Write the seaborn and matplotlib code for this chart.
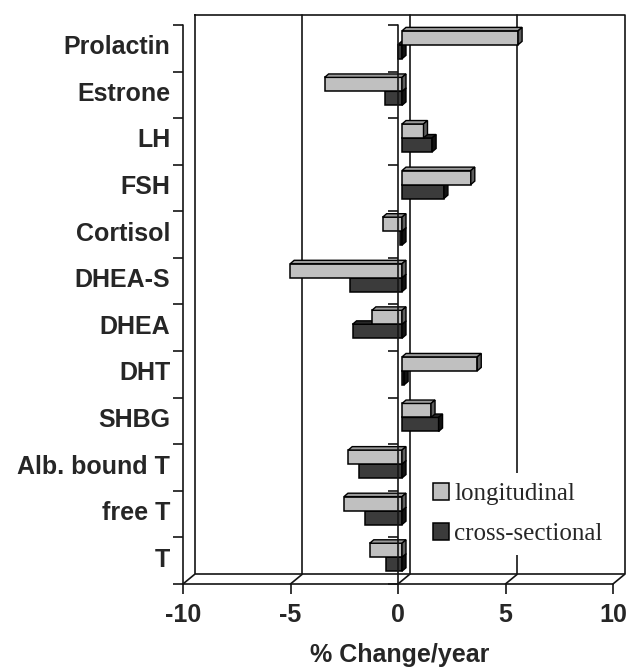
import numpy as np
import pandas as pd
import matplotlib
matplotlib.use("Agg")
import matplotlib.pyplot as plt
from matplotlib import markers, transforms
from matplotlib.patches import Polygon, Patch
import seaborn as sns

# ---- data -------------------------------------------------------------
hormones = ["Prolactin", "Estrone", "LH", "FSH", "Cortisol", "DHEA-S",
            "DHEA", "DHT", "SHBG", "Alb. bound T", "free T", "T"]
longitudinal = [5.4, -3.6, 1.0, 3.2, -0.9, -5.2, -1.4, 3.5, 1.35, -2.5, -2.7, -1.5]
cross_sectional = [-0.2, -0.8, 1.4, 1.95, -0.1, -2.4, -2.3, 0.1, 1.7, -2.0, -1.7, -0.75]
series = ["longitudinal", "cross-sectional"]
x_ticks = [-10, -5, 0, 5, 10]
x_label = "% Change/year"

df = pd.DataFrame({
    "hormone": hormones * 2,
    "change": longitudinal + cross_sectional,
    "design": [series[0]] * len(hormones) + [series[1]] * len(hormones),
})

# ---- style ------------------------------------------------------------
sns.set_style("white")
plt.rcParams["font.family"] = ["Liberation Sans", "DejaVu Sans"]
LINE = "#141414"
front_colors = ["#c0c0c0", "#3b3b3b"]
top_colors = ["#9a9a9a", "#282828"]
side_colors = ["#5e5e5e", "#121212"]

W, H, DPI = 631, 670, 100
fig = plt.figure(figsize=(W / DPI, H / DPI), dpi=DPI)
# the axes is the plane in which the bars' front faces lie (pixel box)
L, R, T, B = 187, 617, 21.5, 580.5
ax = fig.add_axes([L / W, 1 - B / H, (R - L) / W, (B - T) / H])

sns.barplot(data=df, y="hormone", x="change", hue="design",
            order=hormones, hue_order=series, palette=front_colors,
            orient="h", width=0.6, errorbar=None, edgecolor="black",
            linewidth=1.1, legend=False, ax=ax)

n = len(hormones)
ax.set_xlim(x_ticks[0], x_ticks[-1])
ax.set_ylim(n - 0.5, -0.5)
for s in ax.spines.values():
    s.set_visible(False)
ax.set_ylabel("")

# depth offsets in pixels, relative to the bar plane
BAR_DEPTH = np.array([4.0, 3.45])
FRONT = np.array([-4.0, -3.45])
BACK = np.array([7.5, 6.05])


def shifted(x, y, off):
    p = ax.transData.transform((x, y))
    return ax.transData.inverted().transform(p + off)


def plane_line(xs, ys, off, **kw):
    pts = np.array([shifted(x, y, off) for x, y in zip(xs, ys)])
    ax.plot(pts[:, 0], pts[:, 1], clip_on=False, **kw)
    return pts


# ---- 3-D faces on each bar -------------------------------------------
for k, cont in enumerate(ax.containers):
    z = 3 - k
    for bar in cont.patches:
        bar.set_zorder(z)
        x0, w = bar.get_x(), bar.get_width()
        y0, h = bar.get_y(), bar.get_height()
        left, right = min(x0, x0 + w), max(x0, x0 + w)
        top, bottom = min(y0, y0 + h), max(y0, y0 + h)
        top_face = [(left, top), (right, top),
                    tuple(shifted(right, top, BAR_DEPTH)),
                    tuple(shifted(left, top, BAR_DEPTH))]
        side_face = [(right, top), (right, bottom),
                     tuple(shifted(right, bottom, BAR_DEPTH)),
                     tuple(shifted(right, top, BAR_DEPTH))]
        ax.add_patch(Polygon(top_face, closed=True, facecolor=top_colors[k],
                             edgecolor="black", linewidth=1.0, zorder=z,
                             clip_on=False))
        ax.add_patch(Polygon(side_face, closed=True, facecolor=side_colors[k],
                             edgecolor="black", linewidth=1.0, zorder=z,
                             clip_on=False))

# ---- box: back wall, floor, front edges ------------------------------
ymin, ymax = -0.5, n - 0.5
xmin, xmax = x_ticks[0], x_ticks[-1]
lw = 1.2
# back wall outline and its vertical gridlines
plane_line([xmin, xmax, xmax, xmin, xmin], [ymin, ymin, ymax, ymax, ymin],
           BACK, color=LINE, lw=lw, zorder=0.5)
for v in x_ticks[1:-1]:
    plane_line([v, v], [ymin, ymax], BACK, color=LINE, lw=lw, zorder=0.5)
# floor: front edge and lines running back
plane_line([xmin, xmax], [ymax, ymax], FRONT, color=LINE, lw=lw, zorder=1)
for v in x_ticks:
    a = shifted(v, ymax, FRONT)
    b = shifted(v, ymax, BACK)
    ax.plot([a[0], b[0]], [a[1], b[1]], color=LINE, lw=lw, zorder=1,
            clip_on=False)
# floor tick marks
fp = np.array([shifted(v, ymax, FRONT) for v in x_ticks])
ax.plot(fp[:, 0], fp[:, 1], ls="none", marker=markers.TICKDOWN,
        markersize=7.2, markeredgewidth=lw, color=LINE, clip_on=False)
# left edge and zero line, each with category ticks
bounds = np.arange(n + 1) - 0.5
for v in (xmin, 0):
    plane_line([v, v], [ymin, ymax], FRONT, color=LINE, lw=lw, zorder=4)
    bp = np.array([shifted(v, y, FRONT) for y in bounds])
    ax.plot(bp[:, 0], bp[:, 1], ls="none", marker=markers.TICKLEFT,
            markersize=7.2, markeredgewidth=lw, color=LINE, clip_on=False,
            zorder=4)

# ---- ticks and labels -------------------------------------------------
ax.set_xticks(x_ticks)
ax.set_xticklabels([str(v) for v in x_ticks])
ax.tick_params(axis="x", length=0, pad=16, labelsize=18)
ax.tick_params(axis="y", length=0, pad=12, labelsize=18)
for lab in ax.get_xticklabels() + ax.get_yticklabels():
    lab.set_fontweight("bold")
shift = transforms.ScaledTranslation(FRONT[0] / DPI, 0, fig.dpi_scale_trans)
for lab in ax.xaxis.get_majorticklabels():
    lab.set_transform(lab.get_transform() + shift)

ax.set_xlabel(x_label, fontsize=18, fontweight="bold")
ax.xaxis.set_label_coords(0.494, (B - 662) / (B - T))
ax.xaxis.label.set_va("baseline")

# ---- legend -----------------------------------------------------------
handles = [Patch(facecolor=c, edgecolor="black", linewidth=1.1)
           for c in front_colors]
ax.legend(handles, series, loc="upper left",
          bbox_to_anchor=((423 - L) / (R - L), (B - 473) / (B - T)),
          borderaxespad=0, borderpad=0.4, frameon=True, facecolor="white",
          edgecolor="none", framealpha=1, fancybox=False,
          handlelength=0.64, handleheight=0.64, handletextpad=0.2,
          labelspacing=0.72,
          prop={"family": ["Liberation Serif", "DejaVu Serif"], "size": 18})

fig.savefig("out.png", dpi=DPI)
